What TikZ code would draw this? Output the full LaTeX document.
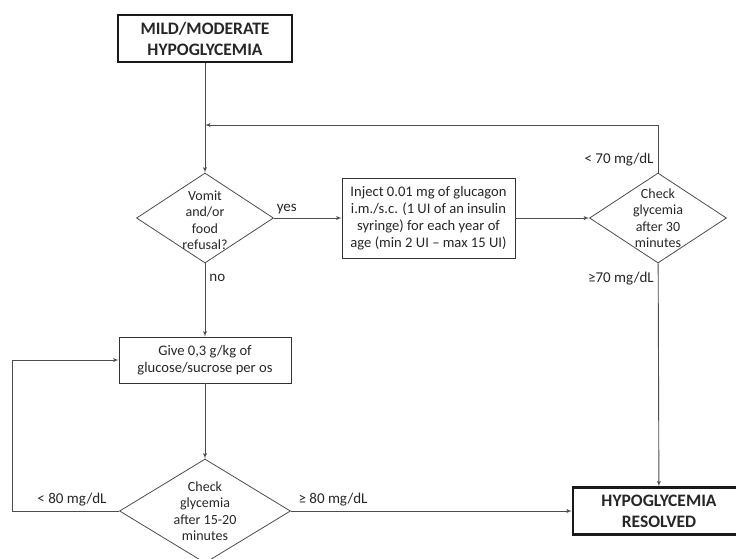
\documentclass[tikz,border=0pt]{standalone}
\usepackage{fontspec}
\setmainfont{Carlito}
\usetikzlibrary{positioning,arrows,shapes.geometric}

\begin{document}
\begin{tikzpicture}[x=1pt,y=-1pt,draw=black!70,text=black!85]
    \tikzstyle{box}=[rectangle,draw=black!80,line width=0.8pt,align=center,inner sep=0pt,font=\fontsize{14.6}{17}\selectfont]
    \tikzstyle{endbox}=[box,line width=2.2pt,draw=black!90,font=\fontsize{17.5}{21}\selectfont\bfseries]
    \tikzstyle{check}=[diamond,draw=black!70,line width=0.8pt,inner sep=0pt]
    \tikzstyle{dtext}=[align=center,inner sep=0pt,font=\fontsize{14}{16.5}\selectfont]
    \tikzstyle{annot}=[font=\fontsize{15}{16}\selectfont,inner sep=4pt]
    \tikzstyle{edge}=[->,>=latex',line width=0.9pt,draw=black!70]

    \useasboundingbox (0,0) rectangle (736,558);

    \node[endbox,minimum width=174,minimum height=47] (start) at (205,38.5) {MILD/MODERATE\\HYPOGLYCEMIA};

    \node[check,minimum width=137,minimum height=90] (vomit) at (205,218) {};
    \node[dtext] (vomittxt) at (205,220) {Vomit\\and/or\\food\\refusal?};

    \node[box,minimum width=173,minimum height=80] (inject) at (428.5,218) {Inject 0.01 mg of glucagon\\i.m./s.c. (1 UI of an insulin\\syringe) for each year of\\age (min 2 UI -- max 15 UI)};

    \node[check,minimum width=137,minimum height=90] (recheck) at (658,218) {};
    \node[dtext] (rechecktxt) at (658,218) {Check\\glycemia\\after 30\\minutes};

    \node[box,minimum width=172,minimum height=46] (give) at (205,360) {Give 0,3 g/kg of\\glucose/sucrose per os};

    \node[check,minimum width=171,minimum height=104] (check) at (205,511) {};
    \node[dtext] (checktxt) at (205,511) {Check\\glycemia\\after 15-20\\minutes};

    \node[endbox,minimum width=172,minimum height=47] (resolved) at (659,511) {HYPOGLYCEMIA\\RESOLVED};

    \coordinate (back) at (205,125);
    \coordinate (loop) at (12,511);

    \draw[edge] (start) -- (vomit);
    \draw[edge] (recheck.north) |- node [annot,left,pos=0.135] {< 70 mg/dL} (back);
    \draw[edge] (vomit) -- node [annot,above,pos=0.19] {yes} (inject);
    \draw[edge] (inject) -- (recheck);
    \draw[edge] (vomit) -- node [annot,right,pos=0.2] {no} (give);
    \draw[edge] (recheck) -- node [annot,left,pos=0.07] {≥70 mg/dL} (resolved);
    \draw[edge] (give) -- (check);
    \draw[edge] (check) -- node [annot,above,pos=0.44] {< 80 mg/dL} (loop) |- (give);
    \draw[edge] (check) -- node [annot,above,pos=0.15] {≥ 80 mg/dL} (resolved);
\end{tikzpicture}
\end{document}
